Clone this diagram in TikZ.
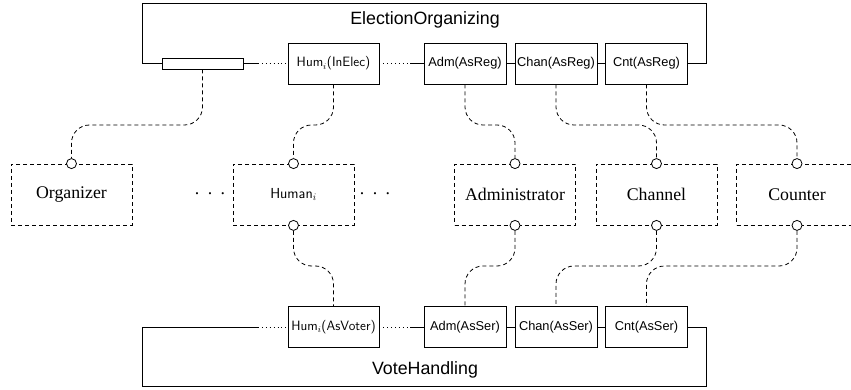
\documentclass[tikz,border=0pt]{standalone}
\usepackage{fontspec}
\setmainfont{Liberation Serif}
\newfontfamily\arialfont{Liberation Sans}
\begin{document}
\begin{tikzpicture}[x=1pt,y=-1pt,
  frame/.style={line width=0.9pt},
  dotline/.style={line width=0.9pt, dash pattern=on 0.9pt off 3pt},
  rolebox/.style={draw, line width=0.9pt, minimum width=82pt, minimum height=41pt,
    inner sep=0pt, font=\arialfont\fontsize{12.8}{14}\selectfont},
  humbox/.style={rolebox, minimum width=91pt, font=\sffamily\fontsize{13.5}{15}\selectfont},
  actor/.style={draw, line width=0.8pt, dash pattern=on 4pt off 3pt,
    minimum width=121pt, minimum height=61pt, inner sep=0pt,
    font=\fontsize{17.8}{20}\selectfont},
  port/.style={circle, draw, fill=white, line width=0.8pt, minimum size=10pt, inner sep=0pt},
  link/.style={line width=0.8pt, dash pattern=on 4pt off 3pt, rounded corners=18pt},
  title/.style={font=\arialfont\fontsize{17.8}{20}\selectfont, inner sep=0pt}]

\useasboundingbox (0,0) rectangle (851,390);

% upper protocol and its roles
\node[draw, line width=0.9pt, minimum width=81pt, minimum height=11pt, inner sep=0pt] (slot) at (202.5,63.5) {};
\node[humbox] (humE) at (333.5,63.5) {Hum$_i$(InElec)};
\node[rolebox] (admR) at (465,63.5) {Adm(AsReg)};
\node[rolebox] (chanR) at (556,63.5) {Chan(AsReg)};
\node[rolebox] (cntR) at (646.5,63.5) {Cnt(AsReg)};
\node[title] (eo) at (425,20) {ElectionOrganizing};

% lower protocol and its roles
\node[humbox] (humV) at (333.5,327) {Hum$_i$(AsVoter)};
\node[rolebox] (admS) at (465,327) {Adm(AsSer)};
\node[rolebox] (chanS) at (556,327) {Chan(AsSer)};
\node[rolebox] (cntS) at (646.5,327) {Cnt(AsSer)};
\node[title] (vh) at (425,370) {VoteHandling};

% actors
\node[actor] (org) at (71.5,194.5) {Organizer};
\node[actor] (hum) at (293.5,194.5) {\sffamily\fontsize{14.5}{16}\selectfont Human$_i$};
\node[actor] (adm) at (515,194.5) {Administrator};
\node[actor] (chan) at (656.5,194.5) {Channel};
\node[actor] (cnt) at (797,194.5) {Counter};
\node[font=\fontsize{17.8}{20}\selectfont, inner sep=0pt] (dl) at (210,194) {.\hspace{8.5pt}.\hspace{8.5pt}.};
\node[font=\fontsize{17.8}{20}\selectfont, inner sep=0pt] (dr) at (375,194) {.\hspace{8.5pt}.\hspace{8.5pt}.};

% frame of the upper protocol
\coordinate (uL) at (142,3);
\coordinate (uR) at (706,3);
\coordinate (uA) at (258,63.5);
\coordinate (uB) at (410,63.5);
\draw[frame] (slot.west) -- (slot.west -| uL) -- (uL) -- (uR) -- (uR |- cntR.east) -- (cntR.east);
\draw[frame] (slot.east) -- (uA);
\draw[dotline] (uA) -- (humE.west);
\draw[dotline] (humE.east) -- (uB);
\draw[frame] (uB) -- (admR.west);
\draw[frame] (admR.east) -- (chanR.west);
\draw[frame] (chanR.east) -- (cntR.west);

% frame of the lower protocol
\coordinate (lL) at (142,386);
\coordinate (lR) at (706,386);
\coordinate (lA) at (258,327);
\coordinate (lB) at (410,327);
\draw[frame] (lA) -- (lA -| lL) -- (lL) -- (lR) -- (lR |- cntS.east) -- (cntS.east);
\draw[dotline] (lA) -- (humV.west);
\draw[dotline] (humV.east) -- (lB);
\draw[frame] (lB) -- (admS.west);
\draw[frame] (admS.east) -- (chanS.west);
\draw[frame] (chanS.east) -- (cntS.west);

% role bindings
\coordinate (upper) at (0,125);
\coordinate (lower) at (0,266);
\foreach \a/\r in {org/slot, hum/humE, adm/admR, chan/chanR, cnt/cntR}{
  \node[port] (\a T) at (\a.north) {};
  \draw[link] (\r.south) -- (\r.south |- upper) -- (\a T.north |- upper) -- (\a T.north);
}
\foreach \a/\r in {hum/humV, adm/admS, chan/chanS, cnt/cntS}{
  \node[port] (\a B) at (\a.south) {};
  \draw[link] (\a B.south) -- (\a B.south |- lower) -- (\r.north |- lower) -- (\r.north);
}
\end{tikzpicture}
\end{document}
